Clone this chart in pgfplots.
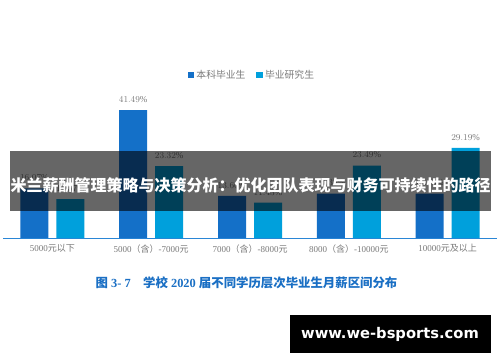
\documentclass[border=0pt]{standalone}
\usepackage{pgfplots}
\pgfplotsset{compat=1.18}
\usepackage{fontspec}
\setmainfont{Liberation Serif}
\newfontfamily\cjk{Noto Sans CJK SC}
\newfontfamily\dvs{DejaVu Sans}
\definecolor{ug}{HTML}{1470C8}
\definecolor{pg}{HTML}{00A0DC}
\definecolor{lbl}{HTML}{7A7A7A}
\definecolor{cap}{HTML}{1A6FC4}
\definecolor{axblue}{HTML}{2A86D6}
\begin{document}
\begin{tikzpicture}[x=1pt,y=1pt]
\path[use as bounding box, fill=white] (0,0) rectangle (500,362);
\begin{axis}[
  at={(3pt,124pt)}, anchor=south west,
  scale only axis, width=494pt, height=138.8pt,
  xmin=-0.5, xmax=4.5, ymin=0, ymax=45,
  axis y line=none, axis x line*=bottom,
  x axis line style={-, draw=axblue, line width=1pt},
  xtick={0,1,2,3,4}, major tick length=0pt,
  xticklabels={5000{\cjk 元以下}, 5000{\cjk （含）}-7000{\cjk 元}, 7000{\cjk （含）}-8000{\cjk 元}, 8000{\cjk （含）}-10000{\cjk 元}, 10000{\cjk 元及以上}},
  xticklabel style={font=\fontsize{9}{9}\selectfont, text=lbl, yshift=-3pt},
  ybar=8pt, bar width=28pt,
  nodes near coords={\pgfmathprintnumber[fixed, precision=2, fixed zerofill]{\pgfplotspointmeta}\%},
  every node near coord/.append style={font=\fontsize{9}{9}\selectfont, text=lbl, yshift=4pt},
  legend style={at={(0.504,1.174)}, anchor=center, draw=none, fill=none,
    font=\fontsize{9.8}{9.8}\selectfont\cjk, text=lbl,
    /tikz/every even column/.append style={column sep=9pt}},
  legend columns=2,
  legend image code/.code={\fill[#1] (0pt,-3.3pt) rectangle (6.6pt,3.3pt);},
]
\addplot[fill=ug, draw=none] coordinates {(0,16.07) (1,41.49) (2,13.66) (3,14.38) (4,14.40)};
\addplot[fill=pg, draw=none] coordinates {(0,12.57) (1,23.32) (2,11.43) (3,23.49) (4,29.19)};
\legend{本科毕业生, 毕业研究生}
\end{axis}
\node[text=cap, font=\bfseries\fontsize{12.4}{12.4}\selectfont] at (246.5,79)
  {{\cjk\bfseries 图} 3- 7\quad{\cjk\bfseries 学校} 2020 {\cjk\bfseries 届不同学历层次毕业生月薪区间分布}};
\fill[black, opacity=0.6] (10,151) rectangle (491,211);
\node[text=white, font=\cjk\bfseries\fontsize{16}{16}\selectfont, inner sep=0pt] at (250.5,177)
  {米兰薪酬管理策略与决策分析：优化团队表现与财务可持续性的路径};
\fill[black] (290,9) rectangle (491,47);
\node[text=white, font=\dvs\bfseries\fontsize{14.7}{14.7}\selectfont, inner sep=0pt] at (390,28) {www.we-bsports.com};
\end{tikzpicture}
\end{document}
